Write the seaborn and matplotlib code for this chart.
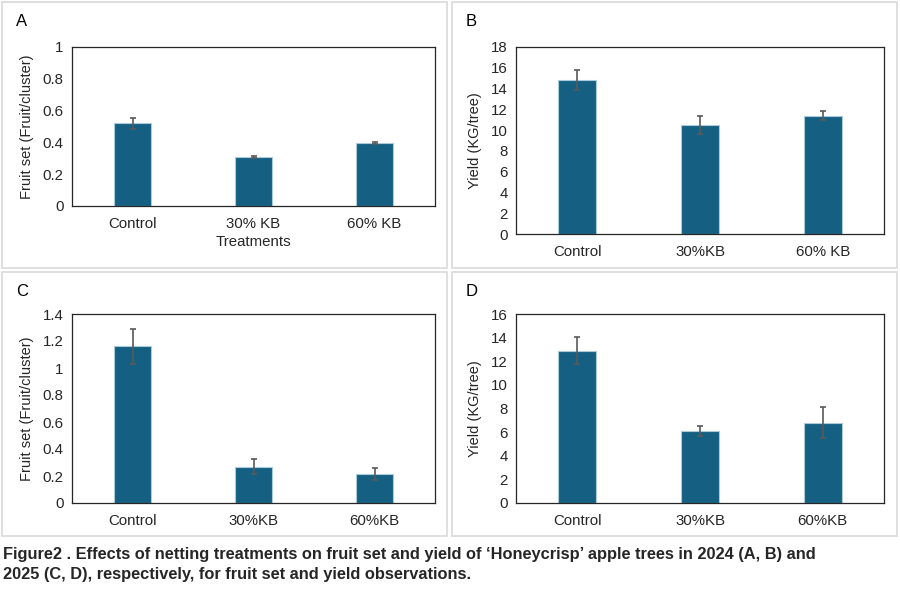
import matplotlib
matplotlib.use("Agg")
import matplotlib.pyplot as plt
import seaborn as sns
import pandas as pd
import numpy as np
from matplotlib.patches import Rectangle

sns.set_theme(style="white")
plt.rcParams['font.family'] = ['Liberation Sans', 'DejaVu Sans']

# ---- data ----
cats_A = ["Control", "30% KB", "60% KB"]
vals_A = [0.52, 0.31, 0.395]
err_A = [0.033, 0.007, 0.006]

cats_B = ["Control", "30%KB", "60% KB"]
vals_B = [14.8, 10.5, 11.4]
err_B = [0.95, 0.9, 0.4]

cats_C = ["Control", "30%KB", "60%KB"]
vals_C = [1.16, 0.27, 0.215]
err_C = [0.13, 0.055, 0.045]

cats_D = ["Control", "30%KB", "60%KB"]
vals_D = [12.9, 6.1, 6.8]
err_D = [1.15, 0.4, 1.3]

panel_labels = ["A", "B", "C", "D"]
ylabels = ["Fruit set (Fruit/cluster)", "Yield (KG/tree)", "Fruit set (Fruit/cluster)", "Yield (KG/tree)"]
ylims = [(0, 1), (0, 18), (0, 1.4), (0, 16)]
ysteps = [0.2, 2, 0.2, 2]
caption = ("Figure2 . Effects of netting treatments on fruit set and yield of \u2018Honeycrisp\u2019 apple trees in 2024 (A, B) and\n"
           "2025 (C, D), respectively, for fruit set and yield observations.")

BAR = "#156082"
W, H = 900, 600
fig = plt.figure(figsize=(9, 6), dpi=100)
fig.patch.set_facecolor("white")

def px(x0, y0, x1, y1):
    return [x0 / W, 1 - y1 / H, (x1 - x0) / W, (y1 - y0) / H]

# panel frames
frames = [(2, 2, 447, 268), (452, 2, 897, 268), (2, 272, 447, 536), (452, 272, 897, 536)]
for (x0, y0, x1, y1) in frames:
    fig.patches.append(Rectangle((x0 / W, 1 - y1 / H), (x1 - x0) / W, (y1 - y0) / H,
                                 transform=fig.transFigure, fill=False,
                                 edgecolor="#d9d9d9", linewidth=1.2))

axes_px = [(72, 47, 435, 206), (516, 47, 884, 234), (72, 314, 435, 503), (516, 314, 884, 503)]
data = [(cats_A, vals_A, err_A), (cats_B, vals_B, err_B), (cats_C, vals_C, err_C), (cats_D, vals_D, err_D)]

for i, (box, (cats, vals, errs)) in enumerate(zip(axes_px, data)):
    ax = fig.add_axes(px(*box))
    df = pd.DataFrame({"cat": cats, "val": vals})
    sns.barplot(data=df, x="cat", y="val", ax=ax, color=BAR, width=0.31,
                saturation=1, edgecolor="#a9cbdc", linewidth=0.8, errorbar=None)
    ax.errorbar(range(len(cats)), vals, yerr=errs, fmt="none", ecolor="#595959",
                elinewidth=1.2, capsize=2.5, capthick=1.2)
    lo, hi = ylims[i]
    ax.set_ylim(lo, hi)
    ax.set_xlim(-0.5, 2.5)
    ticks = np.round(np.arange(lo, hi + ysteps[i] / 2, ysteps[i]), 2)
    ax.set_yticks(ticks)
    ax.set_yticklabels([f"{t:g}" for t in ticks], fontsize=10.8)
    ax.tick_params(axis="x", labelsize=10.8, length=0, pad=8)
    ax.tick_params(axis="y", length=0, pad=6)
    ax.set_ylabel(ylabels[i], fontsize=10.5, labelpad=6)
    ax.set_xlabel("Treatments" if i == 0 else "", fontsize=10.8, labelpad=3)
    for s in ax.spines.values():
        s.set_visible(True)
        s.set_color("#262626")
        s.set_linewidth(0.9)
    fx0, fy0 = frames[i][0], frames[i][1]
    fig.text((fx0 + 14) / W, 1 - (fy0 + 20) / H, panel_labels[i], fontsize=12,
             ha="left", va="center", color="black")

fig.text(3 / W, 1 - 547 / H, caption, fontsize=11.8, fontweight="bold",
         ha="left", va="top", linespacing=1.45,
         family=["Liberation Sans Narrow", "Liberation Sans", "DejaVu Sans"])

fig.savefig("out.png", dpi=100, facecolor="white")
